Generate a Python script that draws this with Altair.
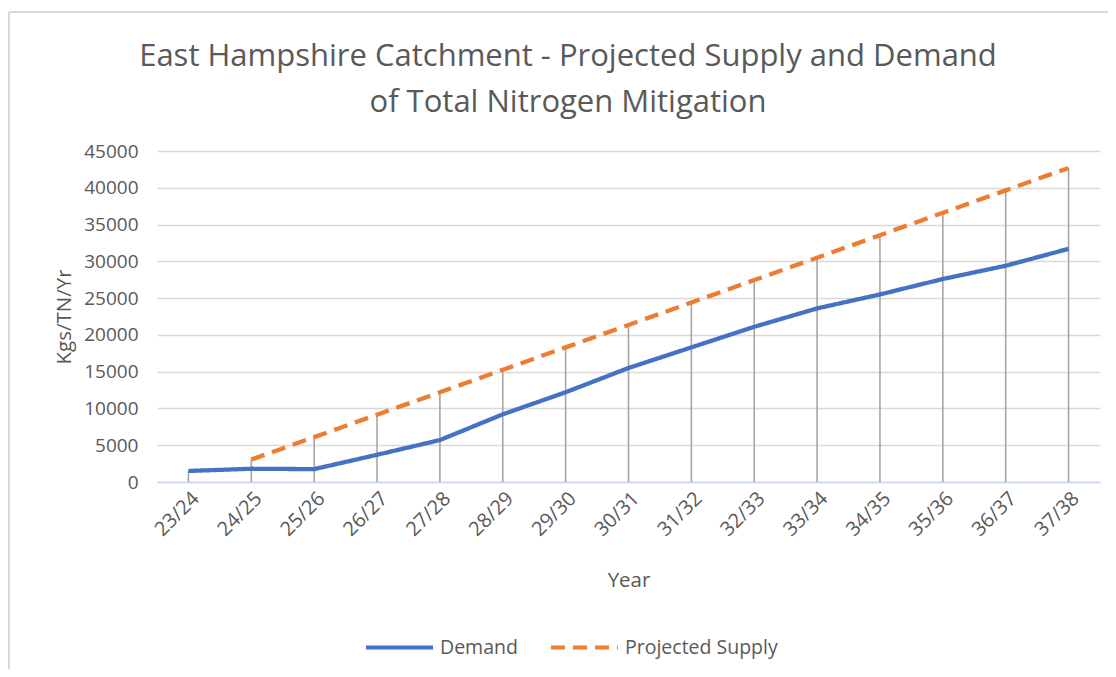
import altair as alt
import pandas as pd

years = ["23/24", "24/25", "25/26", "26/27", "27/28", "28/29", "29/30", "30/31",
         "31/32", "32/33", "33/34", "34/35", "35/36", "36/37", "37/38"]
demand = [1500, 1800, 1750, 3700, 5700, 9200, 12200, 15500, 18300, 21100,
          23600, 25500, 27600, 29400, 31700]
supply = [None, 3050, 6100, 9150, 12200, 15250, 18300, 21350, 24400, 27450,
          30500, 33550, 36600, 39650, 42700]
series_names = ["Demand", "Projected Supply"]
series_colors = ["#4472C4", "#ED7D31"]
y_ticks = [0, 5000, 10000, 15000, 20000, 25000, 30000, 35000, 40000, 45000]
title_lines = ["East Hampshire Catchment - Projected Supply and Demand",
               "of Total Nitrogen Mitigation"]

rows = []
for yr, d, s in zip(years, demand, supply):
    rows.append({"Year": yr, "Series": "Demand", "Value": d})
    if s is not None:
        rows.append({"Year": yr, "Series": "Projected Supply", "Value": s})
df = pd.DataFrame(rows)
drop = pd.DataFrame({"Year": years,
                     "Top": [max(d, s if s is not None else 0) for d, s in zip(demand, supply)]})

FONT = "Open Sans"
TXT = "#595959"

x_enc = alt.X("Year:N", sort=years,
              scale=alt.Scale(type="point", padding=0.5),
              axis=alt.Axis(title="Year", labelAngle=-45, labelFontSize=20, labelColor=TXT,
                            titleFontSize=20.5, titleColor=TXT, titleFontWeight="normal",
                            titlePadding=31, labelPadding=6, ticks=False,
                            domainColor="#CCD8EE", domainWidth=1.5, grid=False))
y_scale = alt.Scale(domain=[0, 45000], nice=False)
y_axis = alt.Axis(title="Kgs/TN/Yr", values=y_ticks, format="d", labelOverlap=False,
                  labelFontSize=19, labelColor=TXT,
                  titleFontSize=20.5, titleColor=TXT, titleFontWeight="normal",
                  titlePadding=9, labelPadding=19, ticks=False, domain=False,
                  grid=True, gridColor="#D9D9D9", gridWidth=1.5)

rules = alt.Chart(drop).mark_rule(color="#A6A6A6", strokeWidth=1.6).encode(
    x=x_enc,
    y=alt.Y("Top:Q", scale=y_scale, axis=y_axis),
    y2=alt.datum(0),
)

leg = alt.Legend(title=None, orient="none", direction="horizontal", legendX=207, legendY=461,
                 symbolType="stroke", symbolSize=4489, symbolStrokeWidth=4,
                 labelFontSize=19.5, labelColor=TXT, labelOffset=5, columnPadding=25)

lines = alt.Chart(df).mark_line(strokeWidth=4.3, strokeCap="butt").encode(
    x=x_enc,
    y=alt.Y("Value:Q", scale=y_scale, axis=y_axis),
    color=alt.Color("Series:N", scale=alt.Scale(domain=series_names, range=series_colors), legend=leg),
    strokeDash=alt.StrokeDash("Series:N", scale=alt.Scale(domain=series_names, range=[[1, 0], [14, 8]]),
                              legend=leg),
    detail="Series:N",
)

frame_top = alt.Chart(drop).mark_rule(color="#D9D9D9", strokeWidth=2).encode(
    x=alt.value(-148), x2=alt.value(960), y=alt.value(-139))
frame_left = alt.Chart(drop).mark_rule(color="#D9D9D9", strokeWidth=2).encode(
    x=alt.value(-148), y=alt.value(-139), y2=alt.value(530))

title_style = dict(font=FONT, fontSize=31, color=TXT, align="center", baseline="alphabetic")
title1 = alt.Chart(pd.DataFrame({"t": [title_lines[0]]})).mark_text(**title_style).encode(
    text="t:N", x=alt.value(411), y=alt.value(-85))
title2 = alt.Chart(pd.DataFrame({"t": [title_lines[1]]})).mark_text(**title_style).encode(
    text="t:N", x=alt.value(411), y=alt.value(-39))

chart = alt.layer(frame_top, frame_left, rules, lines, title1, title2).properties(
    width=943, height=331,
    padding={"left": 149, "top": 143, "right": 8, "bottom": 187},
    autosize=alt.AutoSizeParams(type="none"),
).configure(font=FONT, background="white").configure_view(stroke=None)

chart.save("out.html", embed_options={"renderer": "svg", "actions": False})
